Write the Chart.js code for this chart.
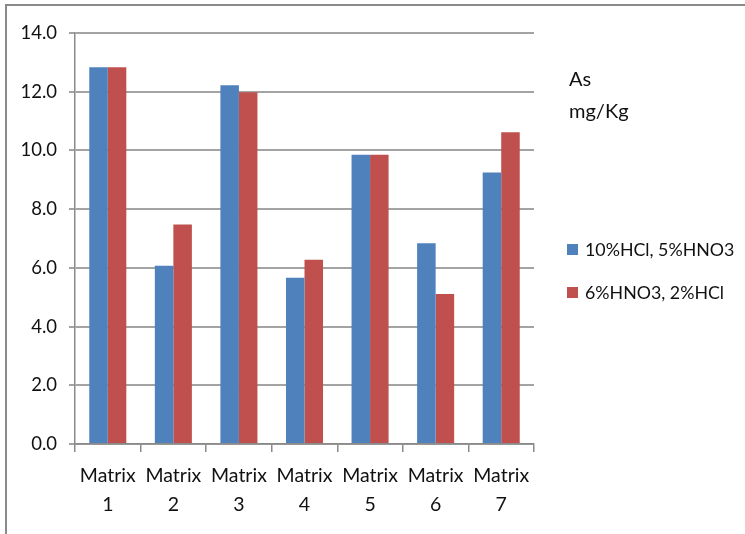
<!DOCTYPE html>
<html>
<head>
<meta charset="utf-8">
<title>As mg/Kg</title>
<script src="https://cdn.jsdelivr.net/npm/chart.js@4"></script>
<style>
  html, body { margin: 0; padding: 0; background: #fff; }
  #wrap { position: relative; width: 745px; height: 534px; overflow: hidden; }
  #frame { position: absolute; left: 5px; top: 4px; width: 800px; height: 600px;
           border-left: 2px solid #8a8a8a; border-top: 2px solid #8a8a8a; pointer-events: none; }
</style>
</head>
<body>
<div id="wrap">
  <canvas id="chartjs-0" width="745" height="534"></canvas>
  <div id="frame"></div>
</div>
<script>
// data
var categories = [["Matrix", "1"], ["Matrix", "2"], ["Matrix", "3"], ["Matrix", "4"],
                  ["Matrix", "5"], ["Matrix", "6"], ["Matrix", "7"]];
var seriesNames = ["10%HCl, 5%HNO3", "6%HNO3, 2%HCl"];
var hclValues = [12.83, 6.07, 12.22, 5.66, 9.85, 6.84, 9.25];
var hno3Values = [12.83, 7.48, 11.98, 6.28, 9.85, 5.11, 10.62];
var unitLines = ["As", "mg/Kg"];

var FONT = "Lato, 'Open Sans', sans-serif";

/* draws the unit text and legend at the right side */
var sideLegend = {
    id: "sideLegend",
    afterDraw: function (chart) {
        var ctx = chart.ctx;
        ctx.save();
        ctx.fillStyle = "#111";
        ctx.textBaseline = "middle";
        ctx.font = "20px " + FONT;
        ctx.fillText(unitLines[0], 569, 80);
        ctx.fillText(unitLines[1], 569, 112);
        var ys = [250, 293];
        ctx.font = "17.8px " + FONT;
        for (var i = 0; i < chart.data.datasets.length; i++) {
            var ds = chart.data.datasets[i];
            ctx.fillStyle = ds.backgroundColor;
            ctx.fillRect(567, ys[i] - 6, 11, 11);
            ctx.fillStyle = "#111";
            ctx.fillText(ds.label, 585, ys[i]);
        }
        ctx.restore();
    }
};

var ctx0 = document.getElementById("chartjs-0");
var myChart = new Chart(ctx0, {
    type: "bar",
    data: {
        labels: categories,
        datasets: [
            { label: seriesNames[0], data: hclValues, backgroundColor: "#4F81BD",
              barPercentage: 1.0, categoryPercentage: 0.565 },
            { label: seriesNames[1], data: hno3Values, backgroundColor: "#C0504D",
              barPercentage: 1.0, categoryPercentage: 0.565 }
        ]
    },
    options: {
        responsive: false,
        animation: false,
        layout: { padding: { left: 0, top: 33, right: 211, bottom: 0 } },
        plugins: {
            legend: { display: false },
            tooltip: { enabled: false }
        },
        scales: {
            x: {
                afterFit: function (scale) { scale.height = 90; },
                grid: { offset: true, drawOnChartArea: false, color: "#8a8a8a",
                        lineWidth: 1.5, tickLength: 8 },
                border: { color: "#8a8a8a", width: 1.5 },
                ticks: { color: "#111", padding: 9, maxRotation: 0,
                         font: { family: FONT, size: 19.5, lineHeight: 1.5 } }
            },
            y: {
                min: 0,
                max: 14,
                afterFit: function (scale) { scale.width = 75; },
                grid: { color: "#a3a3a3", lineWidth: 2, tickLength: 6 },
                border: { color: "#8a8a8a", width: 1.5 },
                ticks: { stepSize: 2, color: "#111", padding: 12,
                         font: { family: FONT, size: 18.5 },
                         callback: function (v) { return v.toFixed(1); } }
            }
        }
    },
    plugins: [sideLegend]
});
</script>
</body>
</html>
